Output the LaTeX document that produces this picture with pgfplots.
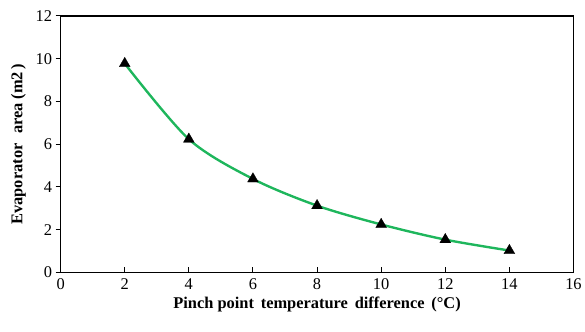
\documentclass[border=0pt]{standalone}
\usepackage{pgfplots}
\pgfplotsset{compat=1.18}
\usepackage{fontspec}
\setmainfont{Liberation Serif}
\definecolor{lgreen}{RGB}{30,182,92}
\begin{document}
\begin{tikzpicture}
\begin{axis}[
  name=ax,
  width=516pt, height=258pt, scale only axis,
  xmin=0, xmax=16, ymin=0, ymax=12,
  xtick={0,2,...,16}, ytick={0,2,...,12},
  axis line style={line width=1.6pt},
  every tick/.style={black, line width=1pt},
  major tick length=5pt,
  xtick align=inside, ytick align=outside,
  xtick pos=bottom, ytick pos=left,
  tick label style={font=\fontsize{16.5}{19}\selectfont},
  xticklabel style={yshift=-3pt},
  /pgf/number format/assume math mode=true,
  xlabel={\fontsize{16.5}{19}\selectfont\bfseries Pinch point\, temperature\, difference\, (°C)},
  ylabel={\fontsize{16.5}{19}\selectfont\bfseries Evaporator\,\, area (m2\,)},
  xlabel style={yshift=0pt},
  ylabel style={yshift=3pt},
  clip=false,
]
\addplot[lgreen, line width=2.4pt, smooth, tension=0.5, mark=triangle*, mark size=6.3pt,
  mark options={black, fill=black, line width=0.3pt}]
  coordinates {(2,9.77) (4,6.23) (6,4.37) (8,3.12) (10,2.24) (12,1.53) (14,1.02)};
\end{axis}
\path (ax.south west) ++(-61pt,-60pt);
\path (ax.north east) ++(8pt,16pt);
\end{tikzpicture}
\end{document}
